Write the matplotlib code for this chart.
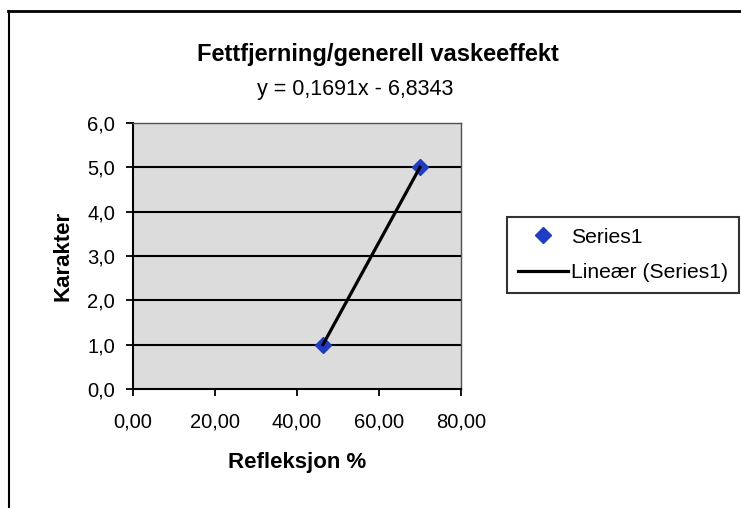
import numpy as np
import matplotlib
matplotlib.use("Agg")
import matplotlib.pyplot as plt
from matplotlib.lines import Line2D

plt.rcParams['font.family'] = ['Liberation Sans', 'DejaVu Sans']

# data
refleksjon = [46.33, 69.98]   # x, Refleksjon %
karakter = [1.0, 5.0]         # y, Karakter
x_ticks = [0, 20, 40, 60, 80]
x_labels = ["0,00", "20,00", "40,00", "60,00", "80,00"]
y_ticks = [0, 1, 2, 3, 4, 5, 6]
y_labels = ["0,0", "1,0", "2,0", "3,0", "4,0", "5,0", "6,0"]

# linear trendline (Excel style, over the data range)
k, m = np.polyfit(refleksjon, karakter, 1)
x_fit = np.array([min(refleksjon), max(refleksjon)])
y_fit = k * x_fit + m

W, H = 741, 508
fig = plt.figure(figsize=(W / 100, H / 100), dpi=100)
ax = fig.add_axes([133 / W, 1 - 389 / H, (461 - 133) / W, (389 - 123) / H])
ax.set_facecolor('#dcdcdc')

for gy in y_ticks[1:-1]:
    ax.axhline(gy, color='black', lw=1.5, zorder=1)

ax.plot(refleksjon, karakter, linestyle='none', marker='D', markersize=8,
        color='#1f3cc4', markeredgecolor='#1f3cc4', zorder=3, label='Series1')
ax.plot(x_fit, y_fit, color='black', lw=2.3, zorder=4, label='Lineær (Series1)')

ax.set_xlim(x_ticks[0], x_ticks[-1])
ax.set_ylim(y_ticks[0], y_ticks[-1])
ax.set_xticks(x_ticks)
ax.set_xticklabels(x_labels)
ax.set_yticks(y_ticks)
ax.set_yticklabels(y_labels)
ax.tick_params(axis='both', direction='out', length=5, width=1.3, color='black',
               labelsize=14.5)
ax.tick_params(axis='x', pad=12)
ax.tick_params(axis='y', pad=8)

for s in ['left', 'bottom']:
    ax.spines[s].set_color('black')
    ax.spines[s].set_linewidth(1.5)
for s in ['top', 'right']:
    ax.spines[s].set_color('#505050')
    ax.spines[s].set_linewidth(1)

ax.set_xlabel('Refleksjon %', fontsize=16, fontweight='bold', labelpad=15)
ax.set_ylabel('Karakter', fontsize=16, fontweight='bold', labelpad=10)

fig.text(378 / W, 1 - 55 / H, 'Fettfjerning/generell vaskeeffekt', ha='center',
         va='center', fontsize=17, fontweight='bold')
fig.text(355 / W, 1 - 90 / H, 'y = 0,1691x - 6,8343', ha='center', va='center',
         fontsize=15.5)

leg = fig.legend(loc='upper left', bbox_to_anchor=(507 / W, 1 - 217 / H),
                 borderaxespad=0, fontsize=15.2, frameon=True, fancybox=False,
                 edgecolor='black', handlelength=2.4, handletextpad=0.15,
                 borderpad=0.5, labelspacing=0.8)
leg.get_frame().set_linewidth(1.5)

# chart area border (left and top edges visible in the scan)
fig.add_artist(Line2D([8.5 / W, 8.5 / W], [0, 1 - 11 / H], transform=fig.transFigure,
                      color='black', lw=1.5))
fig.add_artist(Line2D([8 / W, 1], [1 - 11 / H, 1 - 11 / H], transform=fig.transFigure,
                      color='black', lw=2))

fig.savefig('out.png', dpi=100)
